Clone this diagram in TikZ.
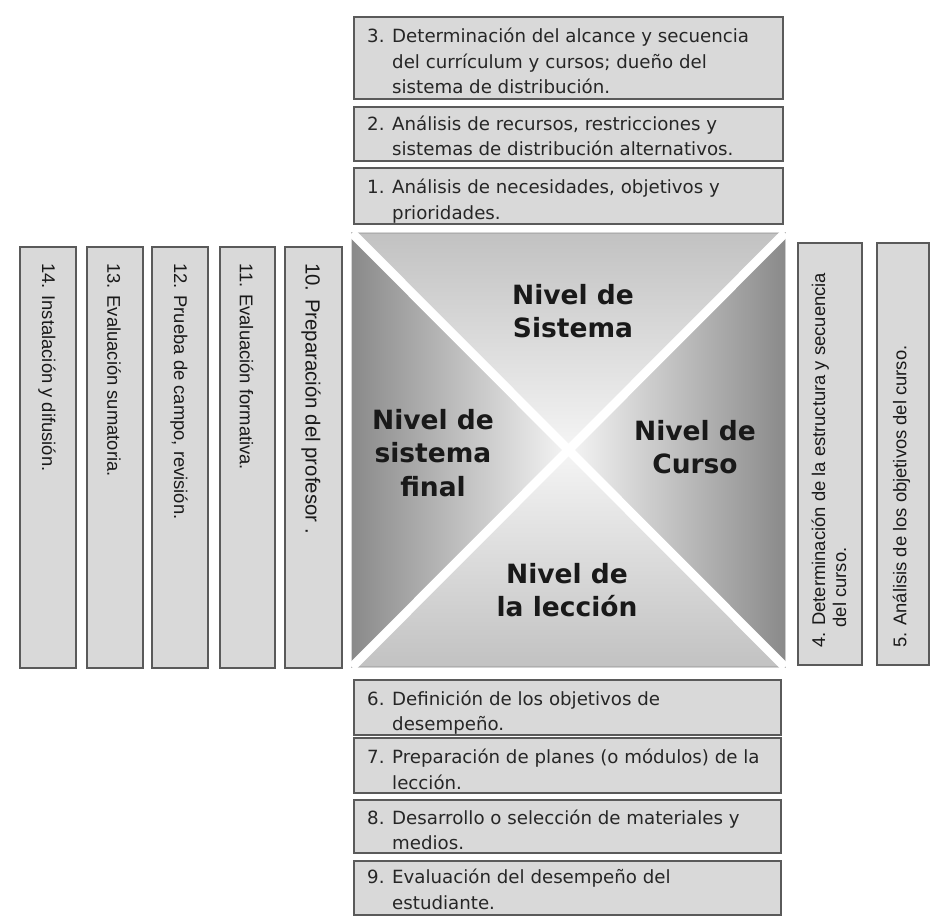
\documentclass[tikz,border=0pt]{standalone}
\usepackage{fontspec}
\setmainfont{DejaVu Sans}
\newfontfamily\arialf{Liberation Sans}
\definecolor{boxfill}{HTML}{D9D9D9}
\definecolor{boxline}{HTML}{5A5A5A}
\definecolor{txt}{HTML}{262626}
\newcommand{\fl}{\rule{0pt}{17.5pt}}
\newcommand{\ind}{\hspace*{25pt}}
\newcommand{\numlab}[1]{\makebox[25pt][l]{#1}}
\begin{document}
\begin{tikzpicture}[x=1pt,y=-1pt,
  box/.style={draw=boxline, fill=boxfill, line width=1.3pt, inner sep=0pt},
  htext/.style={anchor=north west, inner sep=0pt, align=left, text=txt, font=\fontsize{18.2}{25.3}\selectfont},
  vtext/.style={inner sep=0pt, align=left, text=black!90, font=\arialf\fontsize{18.4}{21}\selectfont},
  lvl/.style={align=center, inner sep=0pt, text=black!90, font=\bfseries\fontsize{26.5}{33.5}\selectfont},
  tri/.style={draw=black!45, line width=0.8pt},
  gap/.style={draw=white, line width=9pt}
]
\fill[white] (0,0) rectangle (931,918);
\useasboundingbox (0,0) rectangle (931,918);

% top boxes
\node[box, minimum width=429pt, minimum height=82pt] (b3) at (568.5,58) {};
\node[box, minimum width=429pt, minimum height=54pt] (b2) at (568.5,134) {};
\node[box, minimum width=429pt, minimum height=56pt] (b1) at (568.5,196) {};
\node[htext] (t3) at (367,25) {\fl\numlab{3.}Determinación del alcance y secuencia\\\ind del currículum y cursos; dueño del\\\ind sistema de distribución.};
\node[htext] (t2) at (367,112.5) {\fl\numlab{2.}Análisis de recursos, restricciones y\\\ind sistemas de distribución alternativos.};
\node[htext] (t1) at (367,176) {\fl\numlab{1.}Análisis de necesidades, objetivos y\\\ind prioridades.};

% bottom boxes
\node[box, minimum width=427pt, minimum height=55pt] (b6) at (567.5,707.5) {};
\node[box, minimum width=427pt, minimum height=55pt] (b7) at (567.5,765.5) {};
\node[box, minimum width=427pt, minimum height=53pt] (b8) at (567.5,826.5) {};
\node[box, minimum width=427pt, minimum height=54pt] (b9) at (567.5,888) {};
\node[htext] (t6) at (367,687.5) {\fl\numlab{6.}Definición de los objetivos de\\\ind desempeño.};
\node[htext] (t7) at (367,746) {\fl\numlab{7.}Preparación de planes (o módulos) de la\\\ind lección.};
\node[htext] (t8) at (367,806.5) {\fl\numlab{8.}Desarrollo o selección de materiales y\\\ind medios.};
\node[htext] (t9) at (367,866) {\fl\numlab{9.}Evaluación del desempeño del\\\ind estudiante.};

% left vertical boxes
\node[box, minimum width=56pt, minimum height=421pt] (b14) at (48,457.5) {};
\node[box, minimum width=56pt, minimum height=421pt] (b13) at (115,457.5) {};
\node[box, minimum width=56pt, minimum height=421pt] (b12) at (180,457.5) {};
\node[box, minimum width=55pt, minimum height=421pt] (b11) at (247.5,457.5) {};
\node[box, minimum width=57pt, minimum height=421pt] (b10) at (313.5,457.5) {};
\node[vtext, rotate=-90, anchor=west] (t14) at (47,263) {14. Instalación y difusión.};
\node[vtext, rotate=-90, anchor=west] (t13) at (114,263) {13. Evaluación sumatoria.};
\node[vtext, rotate=-90, anchor=west] (t12) at (179,263) {12. Prueba de campo, revisión.};
\node[vtext, rotate=-90, anchor=west] (t11) at (246.5,263) {11. Evaluación formativa.};
\node[vtext, rotate=-90, anchor=west, font=\arialf\fontsize{20.4}{23}\selectfont] (t10) at (311,263) {10. Preparación del profesor .};

% right vertical boxes
\node[box, minimum width=64pt, minimum height=422pt] (b4) at (830,454) {};
\node[box, minimum width=52pt, minimum height=422pt] (b5) at (903,454) {};
\node[vtext, rotate=90, anchor=west] (t4) at (829,648) {4. Determinación de la estructura y secuencia\\\hspace*{20.5pt}del curso.};
\node[vtext, rotate=90, anchor=west] (t5) at (901.5,648) {5. Análisis de los objetivos del curso.};

% central square
\coordinate (A) at (352,233);
\coordinate (B) at (785,233);
\coordinate (C) at (785,667);
\coordinate (D) at (352,667);
\coordinate (O) at (568.5,450);
\shade[top color=black!24, bottom color=black!4] (A) -- (B) -- (O) -- cycle;
\shade[top color=black!4, bottom color=black!24] (D) -- (C) -- (O) -- cycle;
\shade[left color=black!46, right color=black!4] (A) -- (D) -- (O) -- cycle;
\shade[left color=black!4, right color=black!46] (B) -- (C) -- (O) -- cycle;
\draw[tri] (A) -- (B) -- (O) -- cycle;
\draw[tri] (D) -- (C) -- (O) -- cycle;
\draw[tri] (A) -- (D) -- (O) -- cycle;
\draw[tri] (B) -- (C) -- (O) -- cycle;
\draw[gap] (A) -- (C);
\draw[gap] (B) -- (D);

\node[lvl] (lsis) at (573,311) {Nivel de\\Sistema};
\node[lvl] (lfin) at (433,453) {Nivel de\\sistema\\final};
\node[lvl] (lcur) at (695,447) {Nivel de\\Curso};
\node[lvl] (llec) at (567,590) {Nivel de\\la lección};
\end{tikzpicture}
\end{document}
